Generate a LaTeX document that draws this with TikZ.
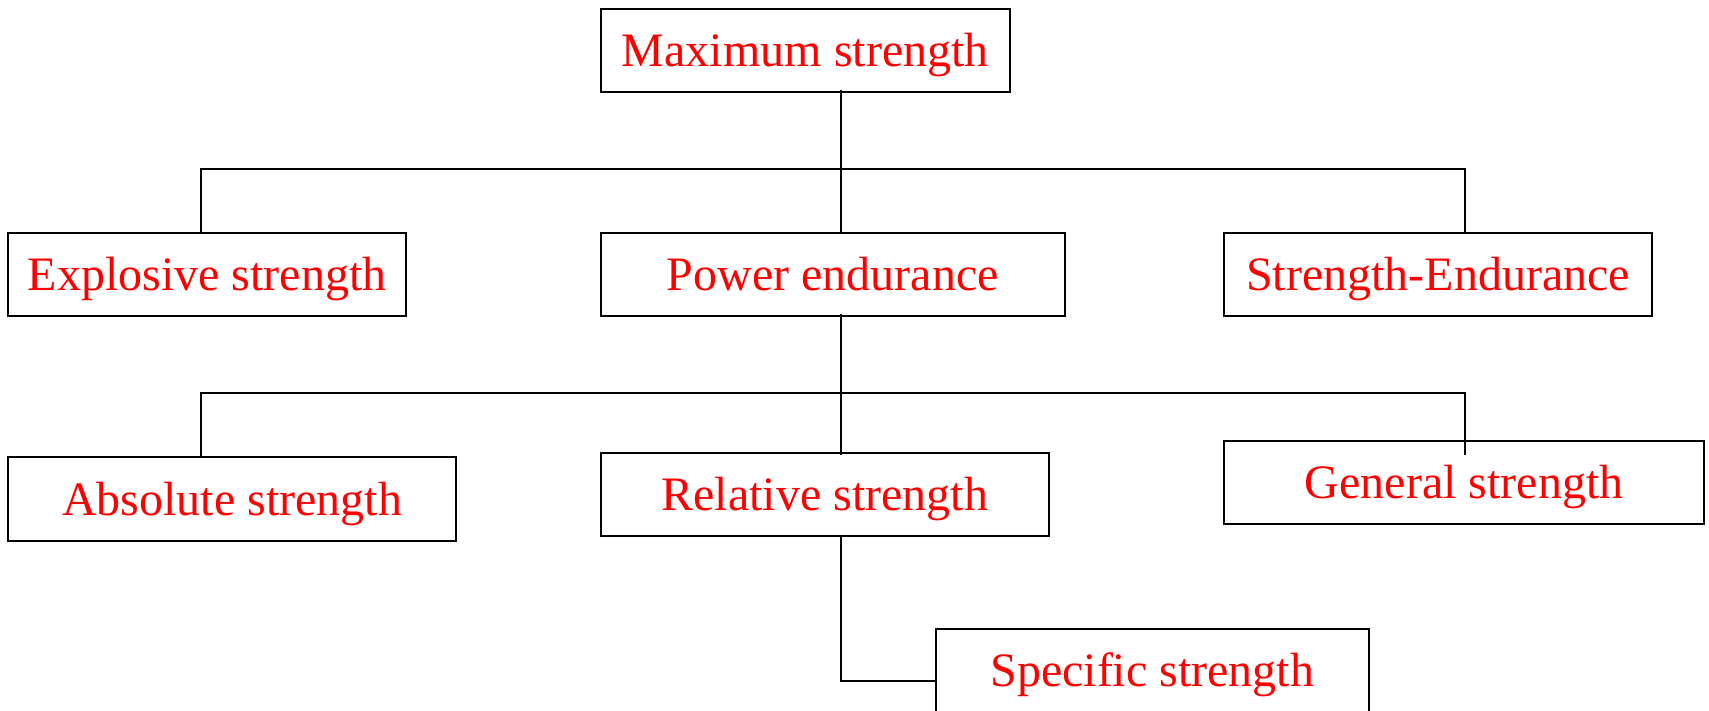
\documentclass[tikz,border=0pt]{standalone}
\usepackage{fontspec}
\setmainfont{Liberation Serif}
\usetikzlibrary{calc}
\tikzset{
  box/.style={draw=black, line width=1pt, inner sep=0pt, text=red,
    font=\fontsize{24pt}{28pt}\selectfont, text height=15.9pt, text depth=0pt},
  conn/.style={draw=black, line width=1pt}
}
\begin{document}
\begin{tikzpicture}[x=0.5pt,y=-0.5pt]
\useasboundingbox (0,0) rectangle (1709,711);
\node[box, minimum width=204.6pt, minimum height=41.2pt] (max) at (805.3,50.5) {Maximum strength};
\node[box, minimum width=198.7pt, minimum height=41.5pt] (expl) at (207,274.2) {Explosive strength};
\node[box, minimum width=232.1pt, minimum height=41.6pt] (pe) at (832.9,274.3) {Power endurance};
\node[box, minimum width=213.8pt, minimum height=41.5pt] (se) at (1438.2,274.2) {Strength-Endurance};
\node[box, minimum width=224pt, minimum height=41.8pt] (abs) at (232.3,499.2) {Absolute strength};
\node[box, minimum width=224.1pt, minimum height=41.6pt] (rel) at (824.9,494.3) {Relative strength};
\node[box, minimum width=239.8pt, minimum height=41.6pt] (gen) at (1464.2,482.7) {General strength};
\node[box, minimum width=216.3pt, minimum height=41.6pt] (spec) at (1152.3,670.9) {Specific strength};
\coordinate (a1) at (201,169);
\coordinate (c1) at (840.7,169);
\coordinate (b1) at (1465,169);
\coordinate (a2) at (201,393);
\coordinate (c2) at (840.7,393);
\coordinate (b2) at (1465,393);
\coordinate (s) at (840.7,680.5);
\draw[conn] ($(c1 |- max.south)+(0,-3)$) -- (c1 |- pe.north);
\draw[conn] (a1 |- expl.north) -- (a1) -- (b1) -- (b1 |- se.north);
\draw[conn] ($(c2 |- pe.south)+(0,-3)$) -- ($(c2 |- rel.north)+(0,3)$);
\draw[conn] (a2 |- abs.north) -- (a2) -- (b2) -- ($(b2 |- gen.north)+(0,15)$);
\draw[conn] (s |- rel.south) -- (s) -- (s -| spec.west);
\end{tikzpicture}
\end{document}
